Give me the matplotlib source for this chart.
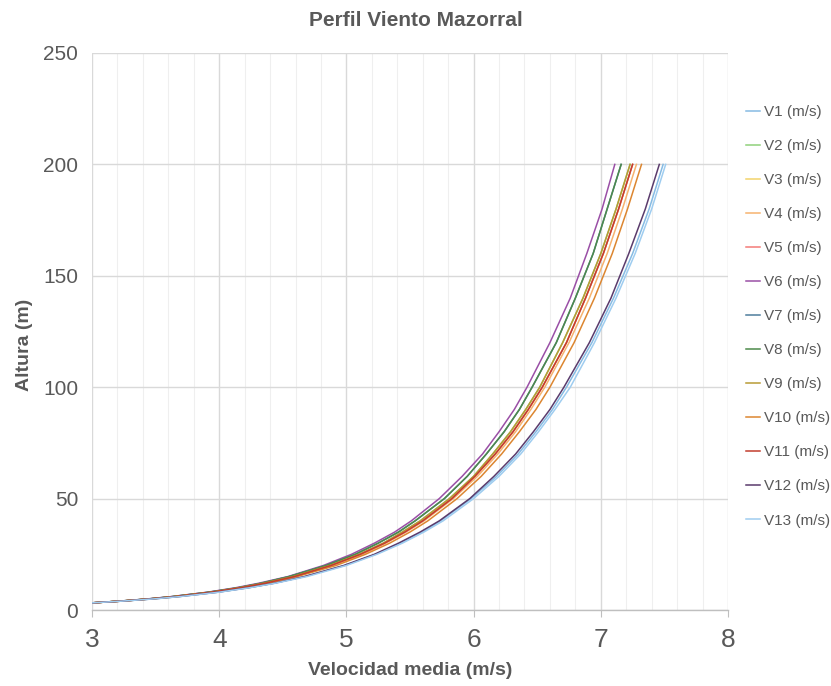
import matplotlib
matplotlib.use("Agg")
import matplotlib.pyplot as plt
from matplotlib.ticker import MultipleLocator

# Heights (m)
alturas = [3.2, 4, 5, 6, 8, 10, 12, 15, 20, 25, 30, 35, 40, 50, 60, 70, 80, 90, 100, 120, 140, 160, 180, 200]

# Mean velocity (m/s) for each series
V1  = [3.00, 3.24, 3.49, 3.68, 3.99, 4.23, 4.43, 4.67, 4.99, 5.23, 5.43, 5.60, 5.74, 5.98, 6.18, 6.35, 6.49, 6.62, 6.73, 6.93, 7.10, 7.25, 7.38, 7.49]
V2  = [3.00, 3.23, 3.46, 3.64, 3.94, 4.16, 4.35, 4.58, 4.87, 5.10, 5.29, 5.44, 5.58, 5.81, 6.00, 6.15, 6.29, 6.41, 6.52, 6.70, 6.86, 7.00, 7.12, 7.23]
V3  = [3.00, 3.23, 3.46, 3.65, 3.94, 4.17, 4.36, 4.59, 4.88, 5.11, 5.30, 5.46, 5.60, 5.83, 6.01, 6.17, 6.31, 6.43, 6.54, 6.73, 6.88, 7.02, 7.14, 7.25]
V4  = [3.00, 3.23, 3.46, 3.65, 3.95, 4.18, 4.37, 4.60, 4.89, 5.13, 5.31, 5.47, 5.61, 5.84, 6.03, 6.19, 6.33, 6.45, 6.56, 6.75, 6.91, 7.05, 7.17, 7.28]
V5  = [3.00, 3.23, 3.46, 3.65, 3.94, 4.17, 4.36, 4.59, 4.88, 5.11, 5.30, 5.46, 5.60, 5.83, 6.01, 6.17, 6.31, 6.43, 6.54, 6.73, 6.88, 7.02, 7.14, 7.25]
V6  = [3.00, 3.22, 3.44, 3.62, 3.91, 4.13, 4.31, 4.54, 4.82, 5.04, 5.22, 5.38, 5.51, 5.73, 5.91, 6.07, 6.20, 6.32, 6.42, 6.60, 6.76, 6.89, 7.01, 7.11]
V7  = [3.00, 3.22, 3.45, 3.63, 3.92, 4.15, 4.33, 4.55, 4.84, 5.07, 5.25, 5.41, 5.54, 5.77, 5.95, 6.10, 6.24, 6.36, 6.46, 6.65, 6.80, 6.94, 7.05, 7.16]
V8  = [3.00, 3.22, 3.45, 3.63, 3.92, 4.15, 4.33, 4.55, 4.84, 5.07, 5.25, 5.41, 5.54, 5.77, 5.95, 6.10, 6.24, 6.36, 6.46, 6.65, 6.80, 6.94, 7.05, 7.16]
V9  = [3.00, 3.23, 3.46, 3.64, 3.94, 4.16, 4.35, 4.58, 4.87, 5.10, 5.29, 5.44, 5.58, 5.81, 6.00, 6.15, 6.29, 6.41, 6.52, 6.70, 6.86, 7.00, 7.12, 7.23]
V10 = [3.00, 3.23, 3.47, 3.66, 3.96, 4.19, 4.38, 4.61, 4.92, 5.15, 5.34, 5.50, 5.64, 5.87, 6.06, 6.22, 6.36, 6.49, 6.60, 6.79, 6.95, 7.09, 7.21, 7.32]
V11 = [3.00, 3.23, 3.46, 3.65, 3.94, 4.17, 4.36, 4.59, 4.88, 5.11, 5.30, 5.46, 5.60, 5.83, 6.01, 6.17, 6.31, 6.43, 6.54, 6.73, 6.88, 7.02, 7.14, 7.25]
V12 = [3.00, 3.24, 3.48, 3.68, 3.99, 4.23, 4.43, 4.67, 4.98, 5.22, 5.41, 5.58, 5.73, 5.97, 6.16, 6.33, 6.47, 6.60, 6.71, 6.91, 7.08, 7.22, 7.35, 7.46]
V13 = [3.00, 3.24, 3.49, 3.69, 4.00, 4.24, 4.44, 4.69, 5.00, 5.24, 5.44, 5.61, 5.76, 6.00, 6.20, 6.37, 6.51, 6.64, 6.76, 6.95, 7.12, 7.27, 7.40, 7.51]

series = [V1, V2, V3, V4, V5, V6, V7, V8, V9, V10, V11, V12, V13]
nombres = ["V1 (m/s)", "V2 (m/s)", "V3 (m/s)", "V4 (m/s)", "V5 (m/s)", "V6 (m/s)", "V7 (m/s)",
           "V8 (m/s)", "V9 (m/s)", "V10 (m/s)", "V11 (m/s)", "V12 (m/s)", "V13 (m/s)"]
colores = ["#86bbe3", "#8fd17a", "#f2d36b", "#f6b36f", "#f47b78", "#9a4fa6", "#4e7d9d",
           "#4d8a4a", "#b89b35", "#dc8630", "#c23d2e", "#5a3b6c", "#9fcdf0"]

plt.rcParams['font.family'] = ['Liberation Sans', 'DejaVu Sans']
txt = "#595959"

fig = plt.figure(figsize=(8.31, 6.86), dpi=100)
ax = fig.add_axes([92/831, 76/686, 636/831, 557/686])

for v, n, c in zip(series, nombres, colores):
    ax.plot(v, alturas, color=c, lw=1.1, label=n)

ax.set_xlim(3, 8)
ax.set_ylim(0, 250)
ax.xaxis.set_major_locator(MultipleLocator(1))
ax.xaxis.set_minor_locator(MultipleLocator(0.2))
ax.yaxis.set_major_locator(MultipleLocator(50))

ax.grid(which='major', axis='both', color='#d9d9d9', lw=1.0)
ax.grid(which='minor', axis='x', color='#efefef', lw=0.8)
ax.set_axisbelow(True)

for s in ['top', 'right', 'left']:
    ax.spines[s].set_visible(False)
ax.spines['bottom'].set_color('#bfbfbf')
ax.spines['bottom'].set_linewidth(1.0)

ax.tick_params(axis='x', which='major', length=5, color='#bfbfbf', labelsize=19, labelcolor=txt, pad=8)
ax.tick_params(axis='x', which='minor', length=0)
ax.tick_params(axis='y', which='major', length=0, labelsize=15, labelcolor=txt, pad=10)

ax.set_xlabel("Velocidad media (m/s)", fontsize=14, fontweight='bold', color=txt, labelpad=7)
ax.set_ylabel("Altura (m)", fontsize=14, fontweight='bold', color=txt)
ax.yaxis.set_label_coords(-0.092, 0.476)
fig.text(0.5, 0.97, "Perfil Viento Mazorral", ha='center', va='center', fontsize=15,
         fontweight='bold', color=txt)

leg = ax.legend(loc='upper left', bbox_to_anchor=(1.018, 0.917), frameon=False, fontsize=11,
                handlelength=0.95, handletextpad=0.25, labelspacing=1.31, borderaxespad=0)
for t in leg.get_texts():
    t.set_color(txt)

fig.savefig("out.png", dpi=100)
